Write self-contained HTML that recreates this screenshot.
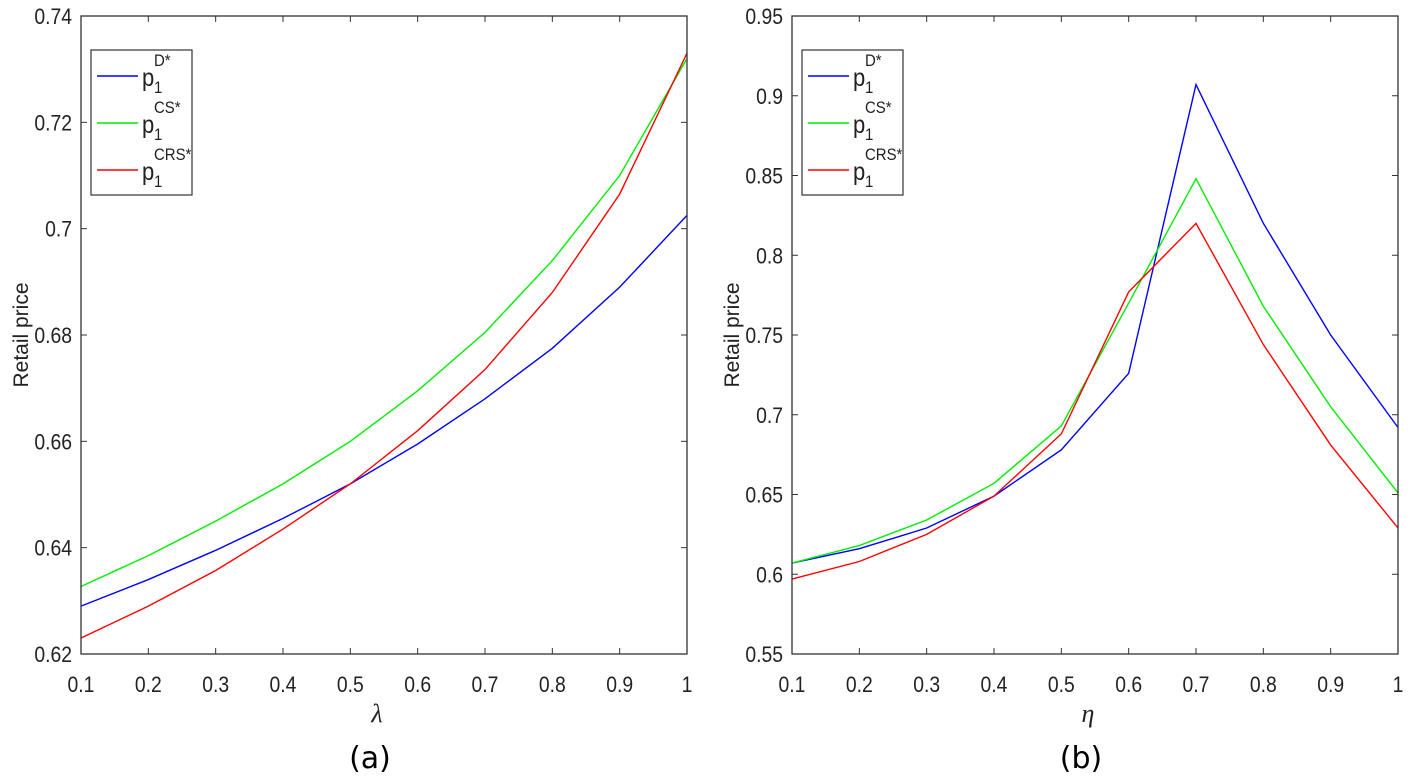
<!DOCTYPE html>
<html><head><meta charset="utf-8"><style>
html,body{margin:0;padding:0;background:#fff;}
svg{display:block;font-family:"Liberation Sans",Arial,sans-serif;}
</style></head><body>
<svg id="chart" width="1417" height="776" viewBox="0 0 1417 776" xmlns="http://www.w3.org/2000/svg"></svg>
<script>
const xTicks=[0.1,0.2,0.3,0.4,0.5,0.6,0.7,0.8,0.9,1];
const xTickLabels=["0.1","0.2","0.3","0.4","0.5","0.6","0.7","0.8","0.9","1"];
const aYTicks=[0.62,0.64,0.66,0.68,0.70,0.72,0.74];
const aYTickLabels=["0.62","0.64","0.66","0.68","0.7","0.72","0.74"];
const bYTicks=[0.55,0.6,0.65,0.7,0.75,0.8,0.85,0.9,0.95];
const bYTickLabels=["0.55","0.6","0.65","0.7","0.75","0.8","0.85","0.9","0.95"];
const aD=[0.629,0.634,0.6395,0.6455,0.652,0.6595,0.668,0.6775,0.689,0.7025];
const aCS=[0.6327,0.6385,0.645,0.652,0.660,0.6695,0.6805,0.694,0.710,0.732];
const aCRS=[0.623,0.629,0.6357,0.6435,0.652,0.662,0.6735,0.688,0.7065,0.733];
const bD=[0.607,0.616,0.629,0.649,0.678,0.726,0.907,0.820,0.750,0.692];
const bCS=[0.607,0.618,0.634,0.657,0.693,0.770,0.848,0.768,0.705,0.651];
const bCRS=[0.597,0.608,0.625,0.649,0.688,0.777,0.820,0.744,0.681,0.629];
const colors={D:"#0000ff",CS:"#00ee00",CRS:"#ff0000"};
const NS="http://www.w3.org/2000/svg";
const svg=document.getElementById('chart');
function mk(tag,attrs,parent,text){const e=document.createElementNS(NS,tag);for(const k in attrs)e.setAttribute(k,attrs[k]);if(text!==undefined)e.textContent=text;(parent||svg).appendChild(e);return e;}
function panel(id,L,R,T,B,ymin,ymax,yT,yTL,series,xlab,cap){
  const g=mk('g',{});
  
  
  const sx=v=>L+(v-0.1)/(1-0.1)*(R-L);
  const sy=v=>B-(v-ymin)/(ymax-ymin)*(B-T);
  series.forEach(s=>{
    const p=mk('polyline',{points:s.vals.map((v,i)=>sx(xTicks[i])+','+sy(v)).join(' '),fill:'none',stroke:colors[s.k],'stroke-width':1.4},g);
    
    
  });
  const box=mk('rect',{x:L,y:T,width:R-L,height:B-T,fill:'none',stroke:'#333','stroke-width':1.3},g);
  
  
  xTicks.forEach((v,i)=>{
    mk('line',{x1:sx(v),x2:sx(v),y1:B,y2:B-6,stroke:'#333','stroke-width':1},g);
    mk('line',{x1:sx(v),x2:sx(v),y1:T,y2:T+6,stroke:'#333','stroke-width':1},g);
    const t=mk('text',{x:0,y:0,transform:`translate(${sx(v)},${B+38}) scale(0.88,1)`,'text-anchor':'middle','font-size':22,fill:'#222'},g,xTickLabels[i]);
    
    
  });
  yT.forEach((v,i)=>{
    mk('line',{x1:L,x2:L+6,y1:sy(v),y2:sy(v),stroke:'#333','stroke-width':1},g);
    mk('line',{x1:R,x2:R-6,y1:sy(v),y2:sy(v),stroke:'#333','stroke-width':1},g);
    const t=mk('text',{x:0,y:0,transform:`translate(${L-9},${sy(v)+8}) scale(0.88,1)`,'text-anchor':'end','font-size':22,fill:'#222'},g,yTL[i]);
    
    
  });
  const yl=mk('text',{x:0,y:0,transform:`translate(${L-53},${(T+B)/2}) rotate(-90)`,'text-anchor':'middle','font-size':21,fill:'#222'},g,'Retail price');
  
  
  const xl=mk('text',{x:(L+R)/2-7,y:722,'text-anchor':'middle','font-size':26,'font-style':'italic',fill:'#222','font-family':'"Liberation Serif",serif'},g,xlab);
  
  
  const c=mk('text',{x:(L+R)/2-14,y:768,'text-anchor':'middle','font-size':30,fill:'#000','font-family':'"DejaVu Sans",sans-serif'},g,cap);
  
  
  const lg=mk('g',{},g);
  
  
  const lx=L+10;
  mk('rect',{x:lx,y:50,width:101,height:145,fill:'#fff',stroke:'#333','stroke-width':1.2},lg);
  [['D','D*'],['CS','CS*'],['CRS','CRS*']].forEach((e,i)=>{
    const y=76+i*47;
    const en=mk('g',{},lg);
    
    
    mk('line',{x1:lx+6,x2:lx+47,y1:y,y2:y,stroke:colors[e[0]],'stroke-width':1.5},en);
    mk('text',{x:0,y:0,transform:`translate(${lx+51},${y+10}) scale(0.88,1)`,'font-size':25,fill:'#222'},en,'p');
    mk('text',{x:0,y:0,transform:`translate(${lx+63},${y+17}) scale(0.88,1)`,'font-size':17,fill:'#222'},en,'1');
    mk('text',{x:0,y:0,transform:`translate(${lx+63},${y-10}) scale(0.88,1)`,'font-size':17,fill:'#222'},en,e[1]);
  });
}
panel('a',81,687,16,654,0.62,0.74,aYTicks,aYTickLabels,[{k:'D',vals:aD},{k:'CS',vals:aCS},{k:'CRS',vals:aCRS}],'λ','(a)');
panel('b',792,1398,16,654,0.55,0.95,bYTicks,bYTickLabels,[{k:'D',vals:bD},{k:'CS',vals:bCS},{k:'CRS',vals:bCRS}],'η','(b)');
</script>
</body></html>
